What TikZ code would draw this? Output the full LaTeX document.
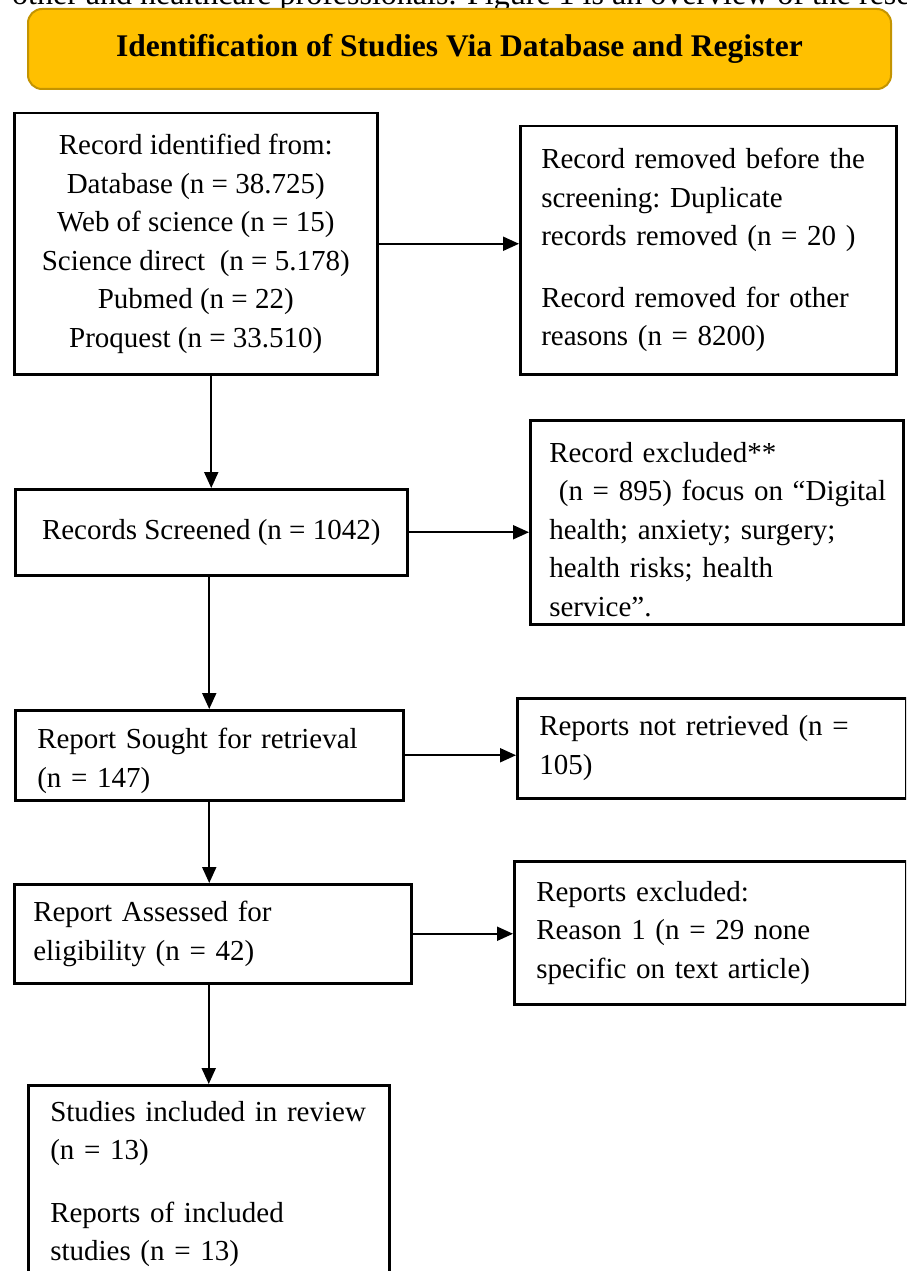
\documentclass[tikz,border=0pt]{standalone}
\usepackage{fontspec}
\setmainfont{Liberation Serif}
\usepackage{tikz}
\usetikzlibrary{arrows.meta, positioning}
\definecolor{dorado}{RGB}{255, 192, 0}
\definecolor{ocre}{RGB}{196, 148, 0}
\newcommand{\cuerpo}{\fontsize{29pt}{38.5pt}\selectfont\frenchspacing}
\tikzset{
    head/.style={draw=ocre, fill=dorado, line width=2pt, rounded corners=14pt, anchor=north west,
                 minimum width=863pt, minimum height=80pt, font=\fontsize{31.5pt}{36pt}\selectfont\bfseries},
    blk/.style={draw, rectangle, line width=2.5pt, anchor=north west, inner ysep=4pt, font=\cuerpo, align=center},
    blkLeft/.style={blk, align=left},
    conn/.style={-{Triangle[length=16pt, width=14pt]}, line width=2pt},
}
\begin{document}
\begin{tikzpicture}[x=1pt, y=-1pt]
    \useasboundingbox (0,0) rectangle (906,1271);
    \clip (0,0) rectangle (906,1271);

    % line of running text cut by the top edge
    \node[anchor=base west, inner sep=0pt, font=\fontsize{32pt}{36pt}\selectfont] (encabezado) at (12,5)
        {other and healthcare professionals. Figure 1 is an overview of the rese};

    \node[head] (titulo) at (27,8) {Identification of Studies Via Database and Register};

    \node[blk, minimum width=363pt, minimum height=261pt] (ident) at (13,112)
        {Record identified from:\\ Database (n = 38.725)\\ Web of science (n = 15)\\
         Science direct~ (n = 5.178)\\ Pubmed (n = 22)\\ Proquest (n = 33.510)};
    \node[blkLeft, inner xsep=21pt, text width=334pt, minimum height=248pt] (removed) at (519,125)
        {Record removed before the\\ screening: Duplicate\\ records removed (n = 20 )\\[23pt]
         Record removed for other\\ reasons (n = 8200)};

    \node[blk, minimum width=392pt, minimum height=86pt] (screened) at (14,488)
        {Records Screened (n = 1042)};
    \node[blkLeft, inner xsep=19pt, text width=335pt, minimum height=204pt] (excluded) at (529,419)
        {\rule{0pt}{34pt}Record excluded**\\ \mbox{~(n = 895) focus on “Digital}\\ health; anxiety; surgery;\\
         health risks; health\\ service”.};

    \node[blkLeft, inner xsep=22pt, text width=344pt, minimum height=90pt] (sought) at (14,709)
        {\rule{0pt}{32pt}Report Sought for retrieval\\ (n = 147)};
    \node[blkLeft, inner xsep=22pt, text width=345pt, minimum height=100pt] (notret) at (516,697)
        {Reports not retrieved (n =\\ 105)};

    \node[blkLeft, inner xsep=19pt, text width=359pt, minimum height=99pt] (assessed) at (13,883)
        {Report Assessed for\\ eligibility (n = 42)};
    \node[blkLeft, inner xsep=22pt, text width=348pt, minimum height=143pt] (repexcl) at (513,860)
        {Reports excluded:\\ Reason 1 (n = 29 none\\ specific on text article)};

    \node[blkLeft, inner xsep=22pt, text width=317pt, minimum height=198pt] (included) at (27,1084)
        {Studies included in review\\ (n = 13)\\[24pt] Reports of included\\ studies (n = 13)};

    \draw[conn] (ident.east) -- (ident.east -| removed.west);
    \draw[conn] (screened.north |- ident.south) -- (screened.north);
    \draw[conn] (screened.east) -- (screened.east -| excluded.west);
    \draw[conn] (sought.north |- screened.south) -- (sought.north);
    \draw[conn] (sought.east) -- (sought.east -| notret.west);
    \draw[conn] (sought.south) -- (sought.south |- assessed.north);
    \draw[conn] (assessed.east) -- (assessed.east -| repexcl.west);
    \draw[conn] (included.north |- assessed.south) -- (included.north);
\end{tikzpicture}
\end{document}
